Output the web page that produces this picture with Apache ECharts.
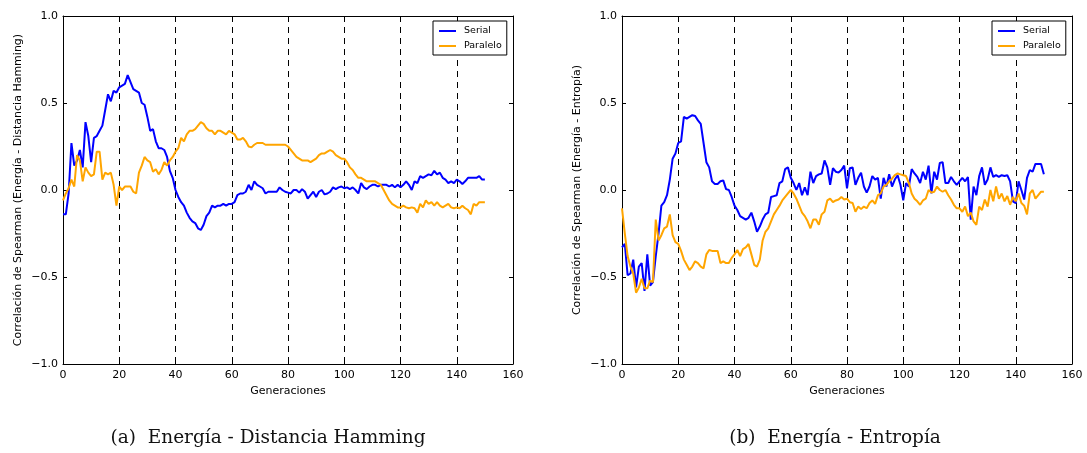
<!DOCTYPE html>
<html>
<head>
<meta charset="utf-8">
<script src="https://cdn.jsdelivr.net/npm/echarts@6/dist/echarts.min.js"></script>
<style>html,body{margin:0;padding:0;background:#fff;}#c{width:1087px;height:453px;}</style>
</head>
<body>
<div id="c"></div>
<script>
// ---- data (generation index = position in array, 0..150) ----
var xTicks = [0, 20, 40, 60, 80, 100, 120, 140, 160];
var yTicks = [-1.0, -0.5, 0.0, 0.5, 1.0];
var seriesNames = ['Serial', 'Paralelo'];
var captions = ['(a)  Energía - Distancia Hamming', '(b)  Energía - Entropía'];
var yTitles = ['Correlación de Spearman (Energía - Distancia Hamming)', 'Correlación de Spearman (Energía - Entropía)'];

var serialA = [
 -0.14,-0.14,-0.02,0.27,0.14,0.17,0.23,0.13,0.39,0.31,
 0.16,0.30,0.31,0.34,0.37,0.46,0.55,0.51,0.57,0.56,
 0.59,0.60,0.61,0.66,0.62,0.58,0.57,0.56,0.50,0.49,
 0.42,0.34,0.35,0.28,0.24,0.24,0.23,0.19,0.11,0.07,
 0.00,-0.04,-0.07,-0.09,-0.13,-0.16,-0.18,-0.19,-0.22,-0.23,
 -0.20,-0.15,-0.13,-0.09,-0.10,-0.09,-0.09,-0.08,-0.09,-0.08,
 -0.08,-0.07,-0.03,-0.02,-0.02,-0.01,0.03,0.00,0.05,0.03,
 0.02,0.01,-0.02,-0.01,-0.01,-0.01,-0.01,0.015,0.00,-0.01,
 -0.015,-0.02,0.00,0.00,-0.015,0.005,-0.01,-0.05,-0.03,-0.01,
 -0.04,-0.01,0.00,-0.025,-0.02,-0.01,0.015,0.005,0.015,0.02,
 0.01,0.015,0.005,0.015,0.00,-0.02,0.04,0.015,0.005,0.02,
 0.03,0.03,0.02,0.03,0.03,0.03,0.02,0.03,0.015,0.03,
 0.015,0.03,0.05,0.03,0.00,0.05,0.04,0.08,0.07,0.08,
 0.09,0.085,0.11,0.09,0.10,0.07,0.06,0.04,0.05,0.04,
 0.06,0.05,0.035,0.05,0.07,0.07,0.07,0.07,0.08,0.06,0.06
];
var paraleloA = [
 -0.06,-0.02,0.01,0.06,0.02,0.20,0.17,0.05,0.13,0.10,
 0.08,0.09,0.22,0.22,0.06,0.10,0.09,0.10,0.03,-0.09,
 0.02,0.00,0.02,0.02,0.02,-0.01,-0.02,0.10,0.14,0.19,
 0.17,0.16,0.105,0.12,0.09,0.115,0.16,0.14,0.17,0.19,
 0.22,0.24,0.30,0.28,0.32,0.34,0.34,0.35,0.37,0.39,
 0.38,0.355,0.34,0.34,0.32,0.34,0.34,0.33,0.32,0.34,
 0.33,0.32,0.29,0.29,0.30,0.28,0.25,0.245,0.26,0.27,
 0.27,0.27,0.26,0.26,0.26,0.26,0.26,0.26,0.26,0.26,
 0.25,0.23,0.21,0.19,0.18,0.17,0.17,0.17,0.16,0.17,
 0.18,0.20,0.21,0.21,0.22,0.23,0.22,0.20,0.19,0.18,
 0.18,0.16,0.13,0.115,0.09,0.07,0.07,0.06,0.05,0.05,
 0.05,0.05,0.04,0.03,0.00,-0.03,-0.06,-0.08,-0.09,-0.10,
 -0.10,-0.09,-0.10,-0.105,-0.10,-0.105,-0.13,-0.08,-0.10,-0.06,
 -0.08,-0.07,-0.09,-0.07,-0.09,-0.10,-0.09,-0.08,-0.10,-0.105,
 -0.10,-0.105,-0.09,-0.105,-0.115,-0.14,-0.08,-0.09,-0.07,-0.07,-0.07
];
var serialB = [
 -0.33,-0.31,-0.49,-0.48,-0.40,-0.56,-0.44,-0.42,-0.58,-0.37,
 -0.55,-0.53,-0.38,-0.25,-0.09,-0.07,-0.03,0.06,0.18,0.21,
 0.27,0.28,0.42,0.41,0.42,0.43,0.425,0.40,0.38,0.27,
 0.16,0.13,0.05,0.035,0.035,0.05,0.055,0.005,0.00,-0.04,
 -0.09,-0.115,-0.15,-0.16,-0.17,-0.16,-0.13,-0.18,-0.24,-0.21,
 -0.17,-0.14,-0.13,-0.04,-0.035,-0.03,0.04,0.05,0.12,0.13,
 0.07,0.04,0.00,0.04,-0.03,0.015,-0.03,0.105,0.04,0.08,
 0.09,0.095,0.17,0.13,0.03,0.125,0.105,0.10,0.115,0.14,
 0.01,0.125,0.13,0.03,0.07,0.10,0.02,-0.015,0.02,0.08,
 0.06,0.07,-0.05,0.07,0.02,0.09,0.02,0.06,0.085,0.03,
 -0.06,0.04,0.02,0.12,0.095,0.075,0.04,0.105,0.06,0.14,
 -0.02,0.105,0.06,0.155,0.16,0.04,0.04,0.075,0.05,0.03,
 0.05,0.07,0.05,0.075,-0.17,0.02,-0.03,0.08,0.13,0.03,
 0.06,0.13,0.075,0.085,0.075,0.085,0.08,0.085,0.05,-0.065,
 -0.075,0.05,0.00,-0.055,0.07,0.115,0.105,0.15,0.15,0.15,0.09
];
var paraleloB = [
 -0.105,-0.25,-0.38,-0.44,-0.48,-0.59,-0.56,-0.51,-0.565,-0.565,
 -0.52,-0.53,-0.17,-0.29,-0.26,-0.22,-0.21,-0.14,-0.26,-0.30,
 -0.31,-0.35,-0.40,-0.43,-0.46,-0.44,-0.41,-0.42,-0.44,-0.45,
 -0.37,-0.345,-0.35,-0.35,-0.35,-0.42,-0.41,-0.42,-0.42,-0.39,
 -0.37,-0.345,-0.38,-0.34,-0.33,-0.31,-0.37,-0.43,-0.44,-0.40,
 -0.29,-0.24,-0.22,-0.18,-0.14,-0.115,-0.09,-0.06,-0.04,-0.02,
 0.00,-0.02,-0.05,-0.09,-0.13,-0.15,-0.18,-0.22,-0.17,-0.17,
 -0.20,-0.14,-0.125,-0.06,-0.05,-0.07,-0.06,-0.055,-0.04,-0.055,
 -0.05,-0.07,-0.075,-0.125,-0.095,-0.11,-0.095,-0.105,-0.075,-0.06,
 -0.08,-0.03,-0.02,0.02,0.03,0.05,0.065,0.085,0.095,0.09,
 0.085,0.08,0.04,-0.02,-0.05,-0.065,-0.085,-0.06,-0.05,0.00,
 -0.015,-0.01,0.02,0.00,-0.01,0.00,-0.03,-0.055,-0.085,-0.105,
 -0.105,-0.125,-0.095,-0.15,-0.13,-0.18,-0.2,-0.095,-0.115,-0.055,
 -0.095,0.00,-0.065,0.02,-0.05,-0.02,-0.065,-0.035,-0.085,-0.04,
 -0.065,-0.02,-0.075,-0.09,-0.14,-0.02,0.00,-0.05,-0.03,-0.01,-0.01
];

var BLUE = '#0000ff', ORANGE = '#ffa500';
function pairs(arr){ return arr.map(function(v,i){ return [i, v]; }); }
function yFmt(v){ return v < 0 ? '\u2212' + Math.abs(v).toFixed(1) : v.toFixed(1); }

var FONT = 'DejaVu Sans';
var gridDefs = [{left:63, top:16, width:450, height:348}, {left:622, top:16, width:450, height:348}];

var xAxes = [], yAxes = [];
gridDefs.forEach(function(g, gi){
  xAxes.push({
    gridIndex: gi, type:'value', position:'bottom', min:xTicks[0], max:xTicks[xTicks.length-1], interval:20,
    name:'Generaciones', nameLocation:'middle', nameGap:22,
    nameTextStyle:{fontFamily:FONT, fontSize:11, color:'#000'},
    axisLine:{show:true, onZero:false, lineStyle:{color:'#000', width:1}},
    axisTick:{show:true, inside:true, length:4, lineStyle:{color:'#000'}},
    axisLabel:{fontFamily:FONT, fontSize:11, color:'#000', margin:6},
    splitLine:{show:true, lineStyle:{color:'#000', width:1, type:[6,5]}}
  });
  xAxes.push({
    gridIndex: gi, type:'value', position:'top', min:0, max:160, interval:20,
    axisLine:{show:true, onZero:false, lineStyle:{color:'#000', width:1}},
    axisTick:{show:true, inside:true, length:4, lineStyle:{color:'#000'}},
    axisLabel:{show:false}, splitLine:{show:false}
  });
  yAxes.push({
    gridIndex: gi, type:'value', position:'left', min:yTicks[0], max:yTicks[yTicks.length-1], interval:0.5,
    name: yTitles[gi], nameLocation:'middle', nameGap:39, nameRotate:90,
    nameTextStyle:{fontFamily:FONT, fontSize:11, color:'#000'},
    axisLine:{show:true, onZero:false, lineStyle:{color:'#000', width:1}},
    axisTick:{show:true, inside:true, length:4, lineStyle:{color:'#000'}},
    axisLabel:{fontFamily:FONT, fontSize:11, color:'#000', margin:5, formatter:yFmt},
    splitLine:{show:false}
  });
  yAxes.push({
    gridIndex: gi, type:'value', position:'right', min:-1, max:1, interval:0.5,
    axisLine:{show:true, onZero:false, lineStyle:{color:'#000', width:1}},
    axisTick:{show:true, inside:true, length:4, lineStyle:{color:'#000'}},
    axisLabel:{show:false}, splitLine:{show:false}
  });
});

function lineSeries(name, data, color, gi){
  return {
    name:name, type:'line', xAxisIndex: gi*2, yAxisIndex: gi*2, data: pairs(data),
    showSymbol:false, symbol:'none', smooth:false, animation:false,
    lineStyle:{color:color, width:2}, itemStyle:{color:color}, z:5
  };
}

function legendAt(left){
  return {
    left:left, top:21, orient:'vertical', data:seriesNames,
    icon:'rect', itemWidth:17, itemHeight:2, itemGap:5,
    padding:[5,5,4,6], backgroundColor:'#fff',
    borderColor:'#000', borderWidth:1, borderRadius:0,
    textStyle:{fontFamily:FONT, fontSize:9.5, color:'#000', padding:[0,0,0,3]}
  };
}

var capStyle = {fontFamily:'DejaVu Serif', fontWeight:'normal', fontSize:18.5, color:'#111'};
var chart = echarts.init(document.getElementById('c'), null, {renderer:'canvas'});
chart.setOption({
  animation:false,
  backgroundColor:'#fff',
  grid: gridDefs.map(function(g){ return Object.assign({outerBoundsMode:'none', containLabel:false}, g); }),
  xAxis: xAxes,
  yAxis: yAxes,
  legend: [legendAt(433), legendAt(992)],
  title: [
    {text:captions[0], left:268, top:429, textAlign:'center', padding:0, textStyle:capStyle},
    {text:captions[1], left:835, top:429, textAlign:'center', padding:0, textStyle:capStyle}
  ],
  series: [
    lineSeries(seriesNames[0], serialA, BLUE, 0),
    lineSeries(seriesNames[1], paraleloA, ORANGE, 0),
    lineSeries(seriesNames[0], serialB, BLUE, 1),
    lineSeries(seriesNames[1], paraleloB, ORANGE, 1)
  ]
});
</script>
</body>
</html>
